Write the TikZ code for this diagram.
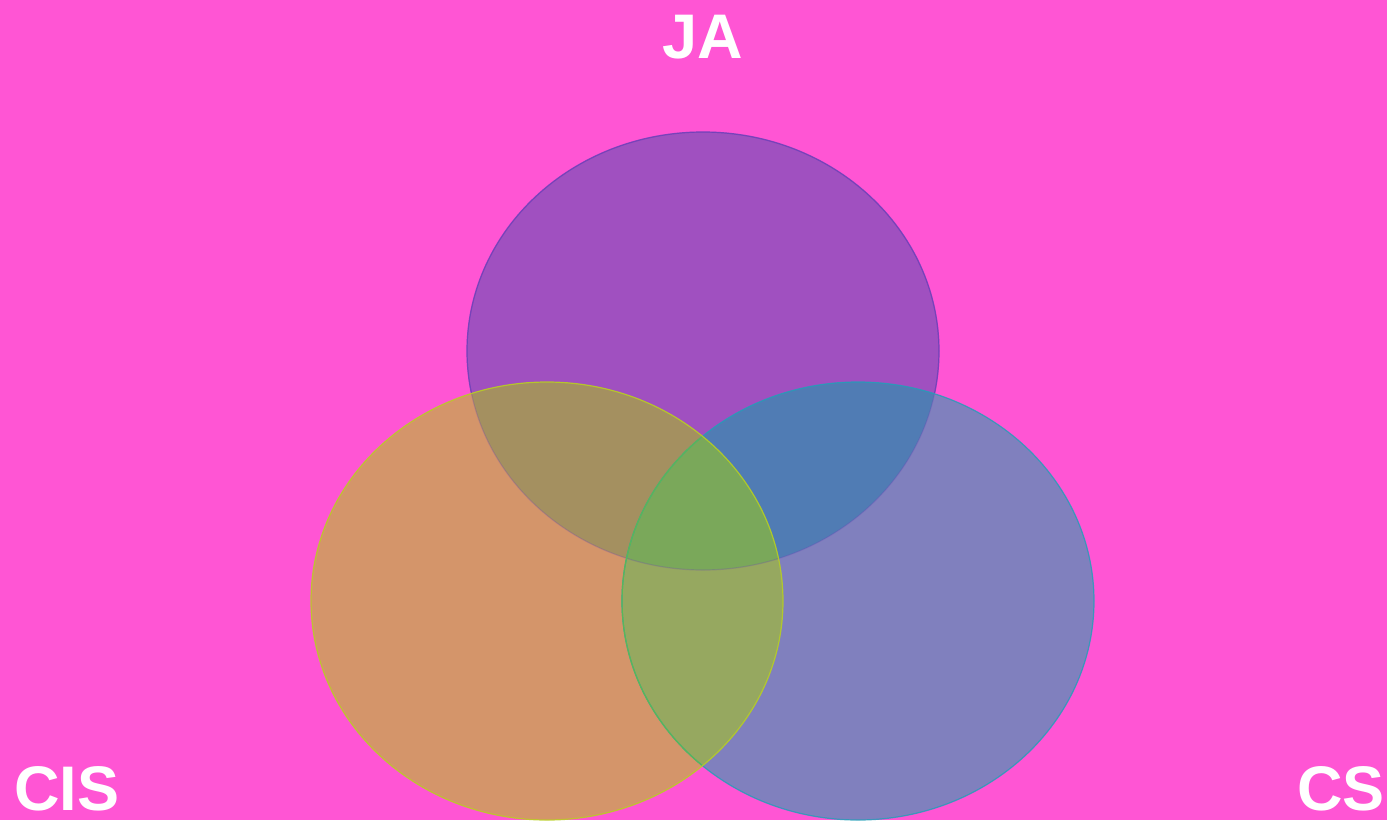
\documentclass[tikz,border=0pt]{standalone}
\usepackage{fontspec}
\setmainfont{Liberation Sans}
\definecolor{bgc}{HTML}{FF55D4}
\definecolor{tonly}{HTML}{A050C0}
\definecolor{lonly}{HTML}{D4956A}
\definecolor{ronly}{HTML}{8080BE}
\definecolor{tl}{HTML}{A49060}
\definecolor{tr}{HTML}{507CB4}
\definecolor{lr}{HTML}{96A860}
\definecolor{tlr}{HTML}{7AA85A}
\definecolor{tstroke}{HTML}{6A40B8}
\definecolor{lstroke}{HTML}{B8D020}
\definecolor{rstroke}{HTML}{20A0B8}
\definecolor{rinner}{HTML}{58B858}
\tikzset{
  lbl/.style={text=white,font=\fontsize{63}{63}\selectfont\bfseries,inner sep=0pt,text depth=0pt},
  edge/.style={line width=1.2pt}
}
\begin{document}
\begin{tikzpicture}[x=1pt,y=-1pt]
\useasboundingbox (0,0) rectangle (1387,820);
\fill[bgc] (0,0) rectangle (1387,820);
\def\Top{(703,351) ellipse [x radius=236,y radius=219]}
\def\Lft{(547,601) ellipse [x radius=236,y radius=219]}
\def\Rgt{(858,601) ellipse [x radius=236,y radius=219]}
\fill[tonly] \Top;
\fill[lonly] \Lft;
\fill[ronly] \Rgt;
\begin{scope}
  \clip \Top;
  \fill[tl] \Lft;
  \fill[tr] \Rgt;
\end{scope}
\begin{scope}
  \clip \Lft;
  \fill[lr] \Rgt;
\end{scope}
\begin{scope}
  \clip \Top;
  \clip \Lft;
  \fill[tlr] \Rgt;
\end{scope}
% top outline: clear where it lies outside the other two, faint inside
\draw[edge,tstroke,opacity=0.25] \Top;
\begin{scope}
  \clip (0,0) rectangle (1387,392);
  \draw[edge,tstroke,opacity=0.8] \Top;
\end{scope}
% right outline, greener where the left ellipse covers it
\draw[edge,rstroke,opacity=0.8] \Rgt;
\begin{scope}
  \clip \Lft;
  \draw[edge,rinner] \Rgt;
\end{scope}
% left outline on top
\draw[edge,lstroke,opacity=0.85] \Lft;
\node[lbl,anchor=base] (ja) at (703,58) {JA};
\node[lbl,anchor=base west] (cis) at (14,810) {CIS};
\node[lbl,anchor=base east] (cs) at (1385,810) {CS};
\end{tikzpicture}
\end{document}
